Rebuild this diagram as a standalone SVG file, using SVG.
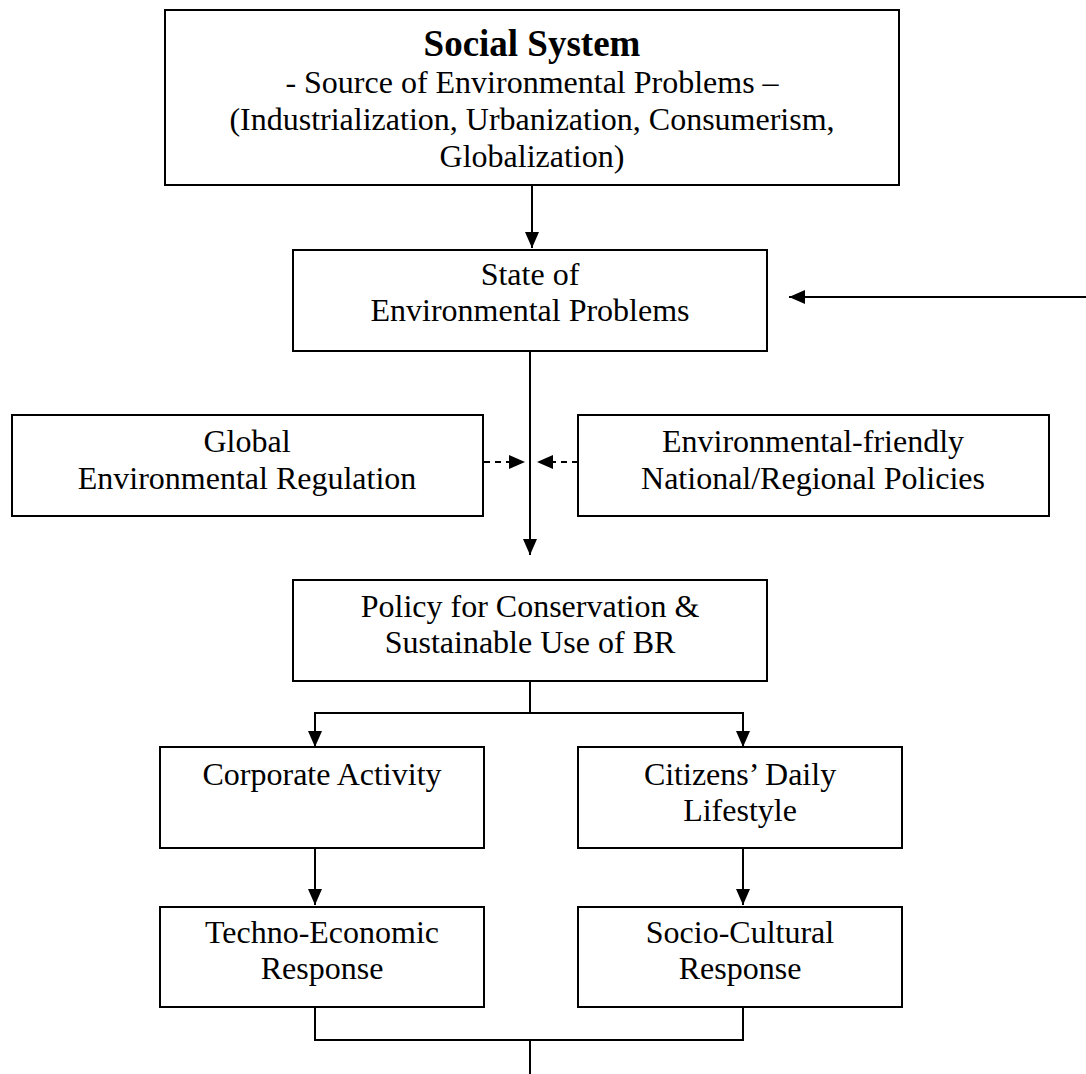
<svg xmlns="http://www.w3.org/2000/svg" width="1086" height="1074" viewBox="0 0 1086 1074">
<style>
.box{fill:#fff;stroke:#000;stroke-width:2}
.t{font-family:"Liberation Serif","Times New Roman",serif;font-size:32px;fill:#000;text-anchor:middle}
.title{font-weight:bold;font-size:37px}
.c{fill:none;stroke:#000;stroke-width:2}
.d{stroke-dasharray:6,5}
</style>
<defs>
<marker id="ah" markerUnits="userSpaceOnUse" markerWidth="16" markerHeight="14" refX="16" refY="7" orient="auto">
<path d="M0,0 L16,7 L0,14 z" fill="#000"/>
</marker>
</defs>
<rect width="1086" height="1074" fill="#fff"/>
<g id="connectors">
<line class="c" x1="532" y1="185" x2="532" y2="248" marker-end="url(#ah)"/>
<line class="c" x1="1086" y1="297" x2="789" y2="297" marker-end="url(#ah)"/>
<line class="c" x1="530" y1="351" x2="530" y2="555" marker-end="url(#ah)"/>
<line class="c d" x1="484" y1="462" x2="525" y2="462" marker-end="url(#ah)"/>
<line class="c d" x1="578" y1="462" x2="537" y2="462" marker-end="url(#ah)"/>
<polyline class="c" points="530,681 530,713"/>
<line class="c" x1="314" y1="713" x2="744" y2="713"/>
<line class="c" x1="315" y1="713" x2="315" y2="747" marker-end="url(#ah)"/>
<line class="c" x1="743" y1="713" x2="743" y2="747" marker-end="url(#ah)"/>
<line class="c" x1="315" y1="848" x2="315" y2="905" marker-end="url(#ah)"/>
<line class="c" x1="743" y1="848" x2="743" y2="905" marker-end="url(#ah)"/>
<polyline class="c" points="315,1007 315,1040 743,1040 743,1007"/>
<line class="c" x1="530" y1="1040" x2="530" y2="1074"/>
</g>
<g id="social-system">
<rect class="box" x="165" y="10" width="734" height="175"/>
<text class="t title" x="532" y="56">Social System</text>
<text class="t" x="532" y="93">- Source of Environmental Problems –</text>
<text class="t" x="532" y="130">(Industrialization, Urbanization, Consumerism,</text>
<text class="t" x="532" y="167">Globalization)</text>
</g>
<g id="state">
<rect class="box" x="293" y="250" width="474" height="101"/>
<text class="t" x="530" y="285">State of</text>
<text class="t" x="530" y="321">Environmental Problems</text>
</g>
<g id="global">
<rect class="box" x="12" y="415" width="471" height="101"/>
<text class="t" x="247" y="452">Global</text>
<text class="t" x="247" y="489">Environmental Regulation</text>
</g>
<g id="national">
<rect class="box" x="578" y="415" width="471" height="101"/>
<text class="t" x="813" y="452">Environmental-friendly</text>
<text class="t" x="813" y="489">National/Regional Policies</text>
</g>
<g id="policy">
<rect class="box" x="293" y="580" width="474" height="101"/>
<text class="t" x="530" y="617">Policy for Conservation &amp;</text>
<text class="t" x="530" y="653">Sustainable Use of BR</text>
</g>
<g id="corporate">
<rect class="box" x="160" y="747" width="324" height="101"/>
<text class="t" x="322" y="785">Corporate Activity</text>
</g>
<g id="citizens">
<rect class="box" x="578" y="747" width="324" height="101"/>
<text class="t" x="740" y="785">Citizens’ Daily</text>
<text class="t" x="740" y="821">Lifestyle</text>
</g>
<g id="techno">
<rect class="box" x="160" y="907" width="324" height="100"/>
<text class="t" x="322" y="943">Techno-Economic</text>
<text class="t" x="322" y="979">Response</text>
</g>
<g id="socio">
<rect class="box" x="578" y="907" width="324" height="100"/>
<text class="t" x="740" y="943">Socio-Cultural</text>
<text class="t" x="740" y="979">Response</text>
</g>
</svg>
